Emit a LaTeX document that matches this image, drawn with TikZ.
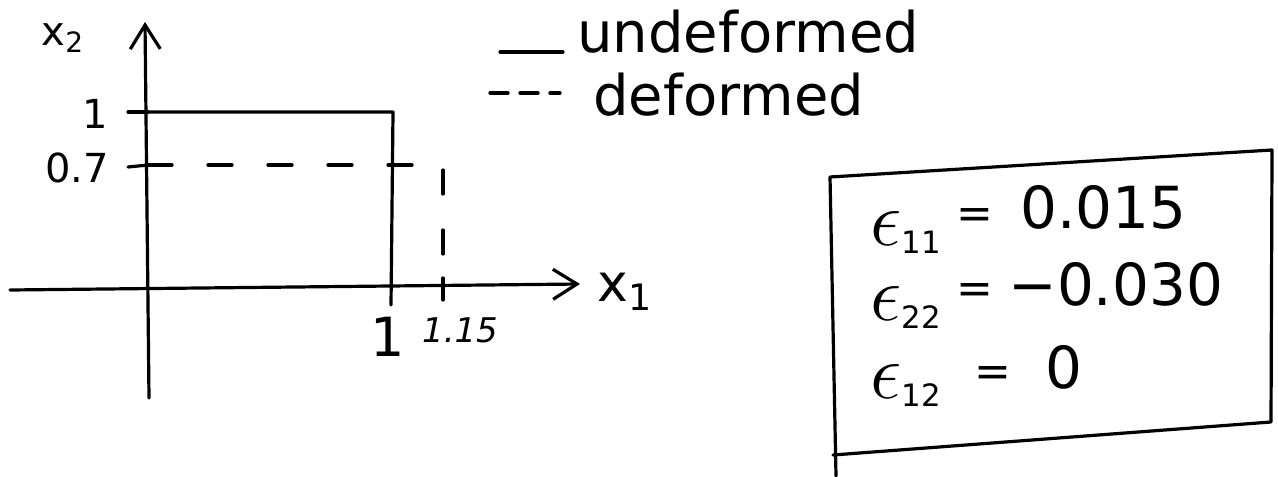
\documentclass[tikz,border=0pt]{standalone}
\usepackage{fontspec}
\setmainfont{DejaVu Sans}
\usetikzlibrary{arrows.meta}

\begin{document}
\begin{tikzpicture}[
    x=0.5pt,y=-0.5pt,
    pen/.style={line width=1.6pt, line cap=round, line join=round},
    axis/.style={pen, -{Straight Barb[length=12pt,width=15pt]}},
    undef/.style={pen},
    deform/.style={pen, dash pattern=on 12pt off 18pt},
    legdash/.style={pen, dash pattern=on 9pt off 6pt},
    lbl/.style={inner sep=0pt, font=\fontsize{20}{24}\selectfont},
    legend/.style={inner sep=0pt, anchor=base west, font=\fontsize{28}{32}\selectfont},
    strain/.style={inner sep=0pt, anchor=base west, font=\fontsize{22}{26}\selectfont},
    equals/.style={inner sep=0pt, anchor=base, font=\fontsize{22}{26}\selectfont},
    value/.style={inner sep=0pt, anchor=base west, font=\fontsize{29}{32}\selectfont}
  ]
    \useasboundingbox (0,0) rectangle (1278,476);

    \coordinate (x2bot) at (149,398);
    \coordinate (x2tip) at (145,22);
    \coordinate (x1start) at (10,290);
    \coordinate (x1tip) at (580,284);
    \draw[axis] (x2bot) -- (x2tip);
    \draw[axis] (x1start) -- (x1tip);

    \coordinate (tickone) at (128,112);
    \coordinate (ticksev) at (128,167);
    \coordinate (recttl) at (148,112);
    \coordinate (recttr) at (393,112);
    \coordinate (rectfoot) at (391,305);
    \coordinate (deftl) at (148,165);
    \coordinate (deftr) at (443,165);
    \coordinate (defbr) at (443,287);
    \coordinate (deftick) at (443,300);
    \coordinate (deftop) at (443,278);

    \draw[pen] (tickone) -- (recttl);
    \draw[pen] (ticksev) -- (deftl);
    \draw[undef] (recttl) -- (recttr) -- (rectfoot);
    \draw[deform] (deftl) -- (deftr) -- (defbr);
    \draw[pen] (deftop) -- (deftick);

    \node[lbl] (x2lab) at (63,38) {x\textsubscript{2}};
    \node[lbl] (onelab) at (95,114) {1};
    \node[lbl] (sevlab) at (77,168) {0.7};
    \node[lbl, font=\fontsize{27}{30}\selectfont] (onebot) at (388,337) {1};
    \node[lbl, font=\fontsize{17}{20}\selectfont\itshape] (onefift) at (460,330) {1.15};
    \node[lbl, font=\fontsize{26}{30}\selectfont] (x1lab) at (625,292) {x\textsubscript{1}};

    \node[legend] (undeflab) at (577,53) {undeformed};
    \node[legend] (deflab) at (593,115) {deformed};
    \coordinate (solidA) at (500,52);
    \coordinate (solidB) at (563,52);
    \coordinate (dashA) at (490,93);
    \coordinate (dashB) at (560,93);
    \draw[undef] (solidA) -- (solidB);
    \draw[legdash] (dashA) -- (dashB);

    \coordinate (boxtl) at (830,177);
    \coordinate (boxtr) at (1272,150);
    \coordinate (boxbr) at (1271,422);
    \coordinate (boxbl) at (833,455);
    \coordinate (boxtail) at (836,476);
    \draw[pen] (boxbl) -- (boxbr) -- (boxtr) -- (boxtl) -- (boxtail);

    \node[strain] (eps11) at (870,245) {\scalebox{1.9}{$\epsilon$}\textsubscript{11}};
    \node[equals] (eq11) at (975,228) {=};
    \node[value] (val11) at (1020,228) {0.015};
    \node[strain] (eps22) at (870,320) {\scalebox{1.9}{$\epsilon$}\textsubscript{22}};
    \node[equals] (eq22) at (975,303) {=};
    \node[value] (val22) at (1008,305) {−0.030};
    \node[strain] (eps12) at (870,398) {\scalebox{1.9}{$\epsilon$}\textsubscript{12}};
    \node[equals] (eq12) at (993,386) {=};
    \node[value] (val12) at (1045,388) {0};
  \end{tikzpicture}
\end{document}
